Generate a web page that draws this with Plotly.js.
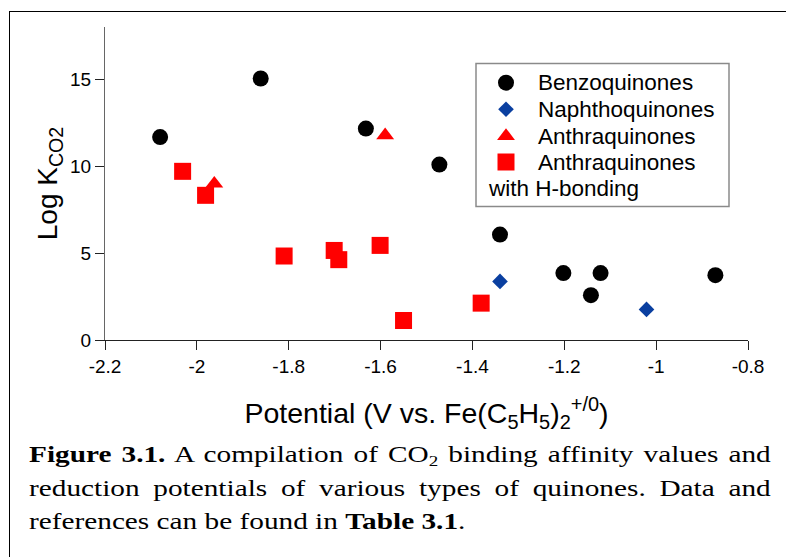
<!DOCTYPE html>
<html>
<head>
<meta charset="utf-8">
<script src="https://cdn.plot.ly/plotly-3.0.1.min.js"></script>
<style>
  html, body { margin: 0; padding: 0; background: #fff; overflow: hidden; width: 786px; height: 557px; }
  #chart { position: absolute; left: 0; top: 0; width: 786px; height: 557px; }
  #frame { position: absolute; left: 9px; top: 11px; width: 900px; height: 900px;
           border-left: 1.5px solid #000; border-top: 1.5px solid #000; pointer-events: none; z-index: 5; }
  #cap { position: absolute; left: 29px; top: 438px; width: 608px;
         font-family: 'Liberation Serif', 'Times New Roman', serif; font-size: 24px; line-height: 33.5px;
         color: #000; transform: scaleX(1.22); transform-origin: 0 0; }
  #cap .ln { height: 33.5px; white-space: nowrap; }
  #cap .j { text-align: justify; text-align-last: justify; white-space: normal; }
  #cap sub { font-size: 0.65em; line-height: 0; vertical-align: baseline; position: relative; top: 0.28em; }
</style>
</head>
<body>
<div id="chart"></div>
<div id="frame"></div>
<div id="cap">
  <div class="ln j"><b>Figure 3.1.</b> A compilation of CO<sub>2</sub> binding affinity values and</div>
  <div class="ln j">reduction potentials of various types of quinones. Data and</div>
  <div class="ln">references can be found in <b>Table 3.1</b>.</div>
</div>
<script>
// ---- data ----
const benzoX = [-2.080, -1.861, -1.632, -1.472, -1.340, -1.202, -1.121, -1.142, -0.871];
const benzoY = [11.67, 15.04, 12.16, 10.09, 6.06, 3.85, 3.85, 2.58, 3.73];
const naphX = [-1.340, -1.021];
const naphY = [3.37, 1.76];
const anthX = [-1.962, -1.590];
const anthY = [8.99, 11.77];
const anthHX = [-2.031, -1.981, -1.810, -1.701, -1.691, -1.601, -1.550, -1.381];
const anthHY = [9.70, 8.32, 4.83, 5.15, 4.62, 5.44, 1.12, 2.12];
const seriesNames = ['Benzoquinones', 'Naphthoquinones', 'Anthraquinones', 'Anthraquinones'];
const legendExtra = 'with H-bonding';
const xTickVals = [-2.2, -2, -1.8, -1.6, -1.4, -1.2, -1, -0.8];
const xTickText = ['-2.2', '-2', '-1.8', '-1.6', '-1.4', '-1.2', '-1', '-0.8'];
const yTickVals = [0, 5, 10, 15];
const yTickText = ['0', '5', '10', '15'];
const xTitle = 'Potential (V vs. Fe(C<sub>5</sub>H<sub>5</sub>)<sub>2</sub><sup>+/0</sup>)';
const yTitle = 'Log K<sub>CO2</sub>';

// ---- styles ----
const FONT = 'Liberation Sans, Arial, Helvetica, sans-serif';
const styles = [
  { symbol: 'circle', color: '#000000', size: 16 },
  { symbol: 'diamond', color: '#0a3fa0', size: 12 },
  { symbol: 'triangle-up', color: '#ff0000', size: 15.5 },
  { symbol: 'square', color: '#ff0000', size: 17 }
];
// custom legend placement in pixel-like coordinates of an overlay axis
const LEG = { left: 476, right: 729, top: 63.5, bottom: 206.5, markX: 506, textX: 536, extraX: 486,
              rows: [82.7, 109.3, 136, 162], extraY: 188.5, font: 22.5 };

const seriesX = [benzoX, naphX, anthX, anthHX];
const seriesY = [benzoY, naphY, anthY, anthHY];

const traces = seriesX.map((xs, i) => ({
  type: 'scatter', mode: 'markers', x: xs, y: seriesY[i], name: seriesNames[i],
  showlegend: false, hoverinfo: 'x+y',
  marker: { symbol: styles[i].symbol, color: styles[i].color, size: styles[i].size, opacity: 1, line: { width: 0 } }
}));

// legend swatches on the overlay axis
traces.push({
  type: 'scatter', mode: 'markers', xaxis: 'x2', yaxis: 'y2', showlegend: false, hoverinfo: 'skip',
  x: LEG.rows.map(() => LEG.markX), y: LEG.rows,
  marker: { symbol: styles.map(s => s.symbol), color: styles.map(s => s.color), size: styles.map(s => s.size),
            opacity: 1, line: { width: 0 } },
  cliponaxis: false
});

const annotations = seriesNames.map((n, i) => ({
  xref: 'x2', yref: 'y2', x: LEG.textX, y: LEG.rows[i], text: n, showarrow: false,
  xanchor: 'left', yanchor: 'middle', font: { family: FONT, size: LEG.font, color: '#000' }
}));
annotations.push({
  xref: 'x2', yref: 'y2', x: LEG.extraX, y: LEG.extraY, text: legendExtra, showarrow: false,
  xanchor: 'left', yanchor: 'middle', font: { family: FONT, size: LEG.font, color: '#000' }
});

const layout = {
  width: 786, height: 557,
  margin: { l: 105, r: 38, t: 27, b: 217, pad: 0 },
  paper_bgcolor: 'rgba(0,0,0,0)', plot_bgcolor: 'rgba(0,0,0,0)',
  font: { family: FONT, color: '#000' },
  showlegend: false,
  xaxis: {
    range: [-2.2, -0.8], tickvals: xTickVals, ticktext: xTickText,
    showgrid: false, zeroline: false, showline: true, linecolor: '#222', linewidth: 1,
    ticks: 'outside', ticklen: 9, tickwidth: 1, tickcolor: '#222',
    tickfont: { family: FONT, size: 19, color: '#000' },
    title: { text: xTitle, font: { family: FONT, size: 28.5, color: '#000' }, standoff: 27 }
  },
  yaxis: {
    range: [0, 18], tickvals: yTickVals, ticktext: yTickText,
    showgrid: false, zeroline: false, showline: true, linecolor: '#666', linewidth: 1,
    ticks: 'outside', ticklen: 9, tickwidth: 1, tickcolor: '#222',
    tickfont: { family: FONT, size: 19, color: '#000' },
    title: { text: yTitle, font: { family: FONT, size: 28, color: '#000' }, standoff: 4 }
  },
  xaxis2: { overlaying: 'x', range: [105, 748], visible: false, fixedrange: true },
  yaxis2: { overlaying: 'y', range: [340, 27], visible: false, fixedrange: true },
  shapes: [{
    type: 'rect', xref: 'x2', yref: 'y2', x0: LEG.left, x1: LEG.right, y0: LEG.top, y1: LEG.bottom,
    line: { color: '#8a8a8a', width: 1.5 }, layer: 'below'
  }],
  annotations: annotations
};

Plotly.newPlot('chart', traces, layout, { staticPlot: true, displayModeBar: false });
</script>
</body>
</html>
